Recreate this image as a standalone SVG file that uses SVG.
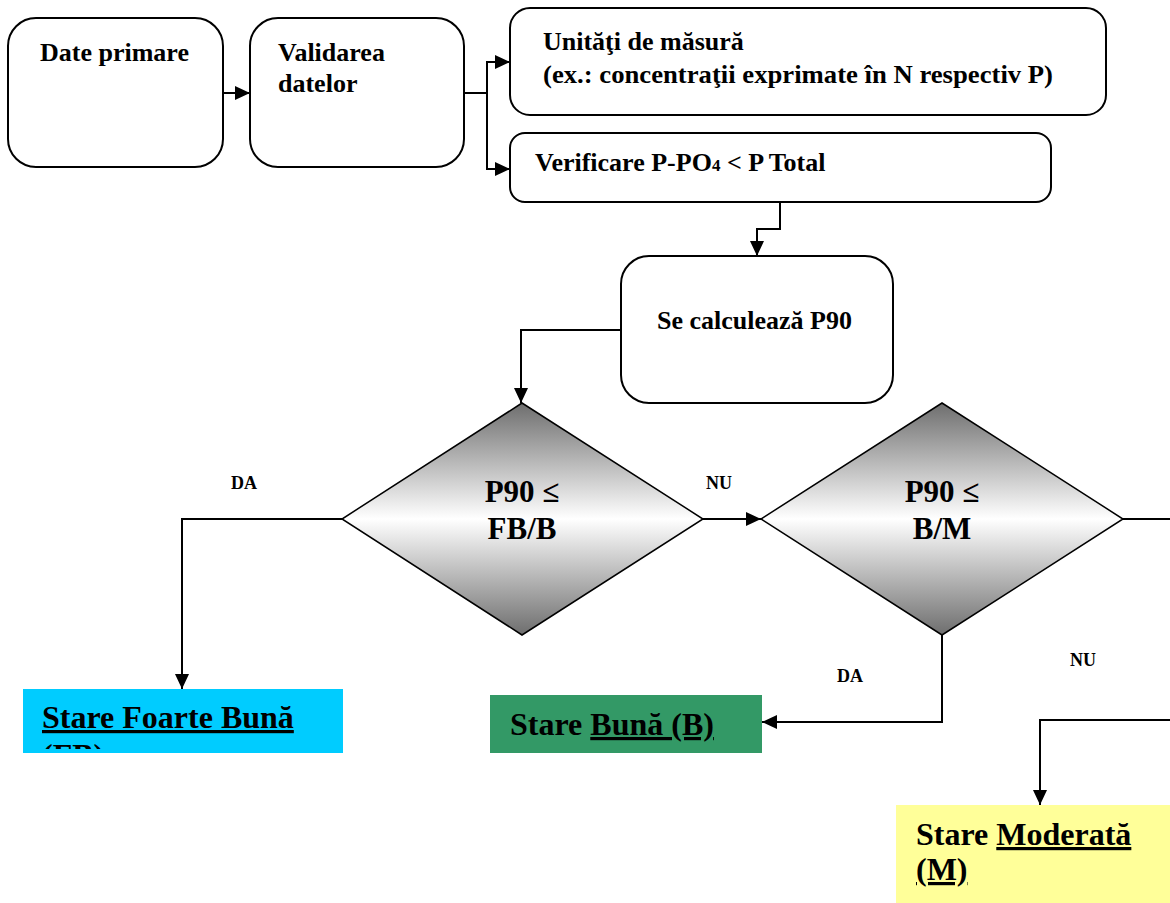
<svg xmlns="http://www.w3.org/2000/svg" width="1170" height="903" viewBox="0 0 1170 903">
<style>
.box{fill:#fff;stroke:#000;stroke-width:2}
.dia{fill:url(#g);stroke:#000;stroke-width:1.5}
.t{font-family:"Liberation Serif","Times New Roman",serif;font-weight:bold;fill:#000}
.c{stroke:#000;stroke-width:2;fill:none}
</style>
<defs>
<linearGradient id="g" x1="0" y1="0" x2="0" y2="1">
<stop offset="0" stop-color="#6e6e6e"/>
<stop offset="0.5" stop-color="#ffffff"/>
<stop offset="1" stop-color="#6e6e6e"/>
</linearGradient>
<marker id="arr" markerWidth="15" markerHeight="14" refX="15" refY="7" orient="auto" markerUnits="userSpaceOnUse">
<path d="M0,0 L15,7 L0,14 z" fill="#000"/>
</marker>
<clipPath id="fbclip"><rect x="23" y="689" width="320" height="60"/></clipPath>
</defs>

<g id="date-primare">
<rect class="box" x="8" y="18" width="215" height="149" rx="28"/>
<text class="t" x="40" y="61" font-size="26">Date primare</text>
</g>
<g id="validarea">
<rect class="box" x="250" y="18" width="214" height="149" rx="28"/>
<text class="t" x="278" y="61" font-size="26">Validarea</text>
<text class="t" x="278" y="92" font-size="26">datelor</text>
</g>
<g id="unitati">
<rect class="box" x="510" y="8" width="596" height="107" rx="20"/>
<text class="t" x="543" y="50" font-size="26">Unităţi de măsură</text>
<text class="t" x="543" y="83" font-size="26" textLength="510" lengthAdjust="spacingAndGlyphs">(ex.: concentraţii exprimate în N respectiv P)</text>
</g>
<g id="verificare">
<rect class="box" x="510" y="133" width="541" height="69" rx="15"/>
<text class="t" x="535" y="171" font-size="26">Verificare P-PO<tspan font-size="17">4</tspan> &lt; P Total</text>
</g>
<g id="calcul">
<rect class="box" x="621" y="256" width="272" height="147" rx="28"/>
<text class="t" x="657" y="329" font-size="26">Se calculează P90</text>
</g>
<g id="decizie1">
<polygon class="dia" points="522,403 703,519 522,635 342,519"/>
<text class="t" x="522" y="502" font-size="31" text-anchor="middle">P90 ≤</text>
<text class="t" x="522" y="539" font-size="31" text-anchor="middle">FB/B</text>
</g>
<g id="decizie2">
<polygon class="dia" points="942,403 1123,519 942,635 761,519"/>
<text class="t" x="942" y="502" font-size="31" text-anchor="middle">P90 ≤</text>
<text class="t" x="942" y="539" font-size="31" text-anchor="middle">B/M</text>
</g>
<g id="stare-fb">
<rect x="23" y="689" width="320" height="64" fill="#00CCFF"/>
<text class="t" x="42" y="728" font-size="32" text-decoration="underline">Stare Foarte Bună</text>
<text class="t" x="42" y="766" font-size="32" text-decoration="underline" clip-path="url(#fbclip)">(FB)</text>
</g>
<g id="stare-b">
<rect x="490" y="695" width="272" height="58" fill="#339966"/>
<text class="t" x="510" y="735" font-size="32">Stare <tspan text-decoration="underline">Bună (B)</tspan></text>
</g>
<g id="stare-m">
<rect x="896" y="805" width="274" height="98" fill="#FFFF99"/>
<text class="t" x="916" y="845" font-size="32">Stare <tspan text-decoration="underline">Moderată</tspan></text>
<text class="t" x="916" y="880" font-size="32" text-decoration="underline">(M)</text>
</g>

<g id="connectors">
<path class="c" d="M223,93 H250" marker-end="url(#arr)"/>
<path class="c" d="M464,93 H487 V62 H510" marker-end="url(#arr)"/>
<path class="c" d="M487,93 V169 H510" marker-end="url(#arr)"/>
<path class="c" d="M780,202 V229 H757 V256" marker-end="url(#arr)"/>
<path class="c" d="M621,330 H521 V403" marker-end="url(#arr)"/>
<path class="c" d="M703,519 H761" marker-end="url(#arr)"/>
<path class="c" d="M342,519 H182 V689" marker-end="url(#arr)"/>
<path class="c" d="M942,635 V722 H762" marker-end="url(#arr)"/>
<path class="c" d="M1123,519 H1170"/>
<path class="c" d="M1170,720 H1040 V805" marker-end="url(#arr)"/>
<text class="t" x="231" y="489" font-size="18">DA</text>
<text class="t" x="706" y="489" font-size="18">NU</text>
<text class="t" x="837" y="682" font-size="18">DA</text>
<text class="t" x="1070" y="666" font-size="18">NU</text>
</g>
</svg>
